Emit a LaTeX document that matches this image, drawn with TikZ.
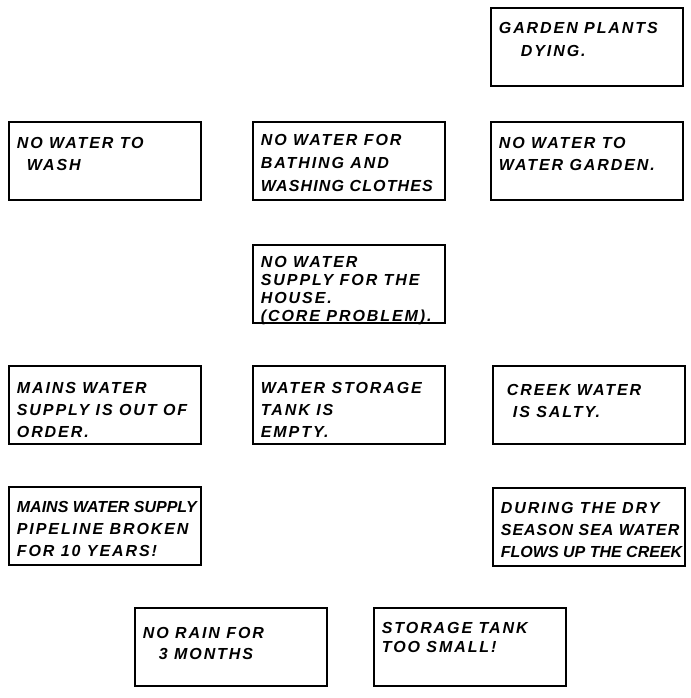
\documentclass[tikz,border=0pt]{standalone}
\usepackage{fontspec}
\newfontfamily\handfont[LetterSpace=12]{Liberation Sans}
\usepackage{tikz}

% text of one box: line spacing, drop of the first line, the lines
\newcommand{\boxtext}[3][22pt]{\parbox[t][58pt][t]{176pt}{\raggedright\baselineskip=#1\vspace*{#2}#3}}
\newcommand{\squeeze}[2][6]{\mbox{\addfontfeatures{LetterSpace=#1}#2}}

\tikzset{
  causebox/.style={draw, line width=1.8pt, anchor=north west, inner xsep=8pt, inner ysep=10pt,
    font=\handfont\bfseries\itshape\fontsize{16}{22}\selectfont}
}

\begin{document}
\begin{tikzpicture}[x=1pt,y=-1pt]
\useasboundingbox (0,0) rectangle (690,698);

\node[causebox] (dying) at (490,7) {\boxtext[23pt]{4pt}{GARDEN PLANTS\\ \hspace*{22pt}DYING.}};

\node[causebox] (wash) at (8,121) {\boxtext{5pt}{NO WATER TO\\ \hspace*{10pt}WASH}};
\node[causebox] (bathing) at (252,121) {\boxtext[23pt]{2pt}{NO WATER FOR\\ BATHING AND\\ \squeeze[7]{WASHING CLOTHES}}};
\node[causebox] (garden) at (490,121) {\boxtext{5pt}{NO WATER TO\\ WATER GARDEN.}};

\node[causebox] (core) at (252,244) {\boxtext[18pt]{1pt}{NO WATER\\ SUPPLY FOR THE\\ HOUSE.\\ (CORE PROBLEM).}};

\node[causebox] (mains) at (8,365) {\boxtext{6pt}{MAINS WATER\\ SUPPLY IS OUT OF\\ ORDER.}};
\node[causebox] (tank) at (252,365) {\boxtext{6pt}{WATER STORAGE\\ TANK IS\\ EMPTY.}};
\node[causebox] (creek) at (492,365) {\boxtext{8pt}{\hspace*{6pt}CREEK WATER\\ \hspace*{12pt}IS SALTY.}};

\node[causebox] (pipe) at (8,486) {\boxtext{4pt}{\squeeze[0]{MAINS WATER SUPPLY}\\ PIPELINE BROKEN\\ FOR 10 YEARS!}};
\node[causebox] (season) at (492,487) {\boxtext{4pt}{DURING THE DRY\\ \squeeze{SEASON SEA WATER}\\ \squeeze[0]{FLOWS UP THE CREEK}}};

\node[causebox] (rain) at (134,607) {\boxtext[21pt]{9pt}{NO RAIN FOR\\ \hspace*{16pt}3 MONTHS}};
\node[causebox] (small) at (373,607) {\boxtext[19pt]{4pt}{STORAGE TANK\\ TOO SMALL!}};
\end{tikzpicture}
\end{document}
